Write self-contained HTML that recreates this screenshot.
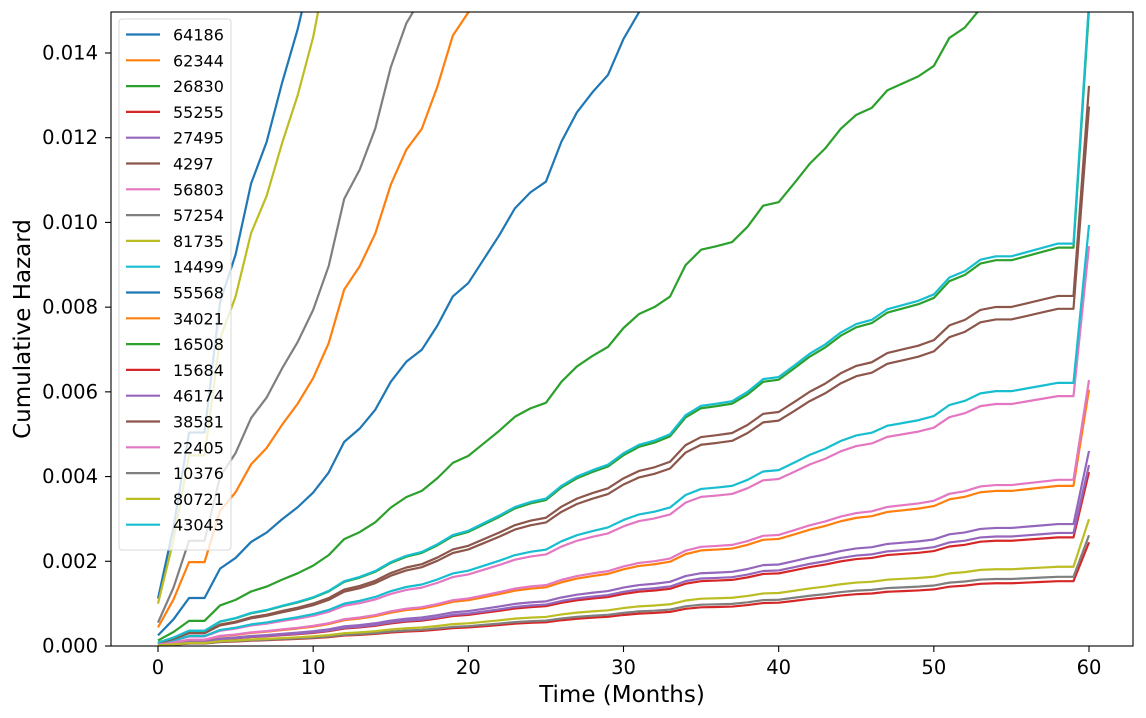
<!DOCTYPE html>
<html><head><meta charset="utf-8"><style>
html,body{margin:0;padding:0;background:#fff;}
svg{display:block;font-family:"DejaVu Sans","Liberation Sans",sans-serif;}
</style></head><body>
<svg id="chart" width="1146" height="718" viewBox="0 0 1146 718" xmlns="http://www.w3.org/2000/svg">
<rect x="0" y="0" width="1146" height="718" fill="#fff"/>
<defs><clipPath id="plotclip"><rect x="111" y="12" width="1022" height="634"/></clipPath></defs>
<g id="lines" clip-path="url(#plotclip)"></g>
<g id="axes"></g>
<g id="legend"></g>
<text x="622" y="702" font-size="23" text-anchor="middle" fill="#000">Time (Months)</text>
<text x="0" y="0" font-size="23" text-anchor="middle" fill="#000" transform="translate(30,329) rotate(-90)">Cumulative Hazard</text>
</svg>
<script>
// Baseline cumulative hazard shape (months 0..60)
const months = [0,1,2,3,4,5,6,7,8,9,10,11,12,13,14,15,16,17,18,19,20,21,22,23,24,25,26,27,28,29,30,31,32,33,34,35,36,37,38,39,40,41,42,43,44,45,46,47,48,49,50,51,52,53,54,55,56,57,58,59,60];
const baseline = [0.00008,0.0002,0.00036,0.00036,0.00058,0.00066,0.00078,0.00085,0.00095,0.00104,0.00115,0.0013,0.00153,0.00163,0.00177,0.00198,0.00213,0.00222,0.0024,0.00262,0.00272,0.0029,0.00308,0.00328,0.0034,0.00348,0.00378,0.004,0.00415,0.00428,0.00455,0.00475,0.00485,0.005,0.00545,0.00567,0.00572,0.00578,0.006,0.0063,0.00635,0.00662,0.0069,0.00712,0.0074,0.0076,0.0077,0.00795,0.00805,0.00815,0.0083,0.0087,0.00885,0.00912,0.0092,0.0092,0.0093,0.0094,0.0095,0.0095,0.0152];
const seriesNames = ["64186","62344","26830","55255","27495","4297","56803","57254","81735","14499","55568","34021","16508","15684","46174","38581","22405","10376","80721","43043"];
const multipliers = [14,5.5,1.65,0.27,0.303,0.87,0.621,6.9,12.5,0.654,3.15,0.398,0.99,0.161,0.281,0.838,0.413,0.172,0.197,1.0];
const yTicks = [0,0.002,0.004,0.006,0.008,0.010,0.012,0.014];
const yTickLabels = ["0.000","0.002","0.004","0.006","0.008","0.010","0.012","0.014"];
const xTicks = [0,10,20,30,40,50,60];
const xTickLabels = ["0","10","20","30","40","50","60"];

const palette = ["#1f77b4","#ff7f0e","#2ca02c","#d62728","#9467bd","#8c564b","#e377c2","#7f7f7f","#bcbd22","#17becf"];
const NS = "http://www.w3.org/2000/svg";
const L = 111, R = 1133, T = 12, B = 646;
function xs(v){ return 158 + (v - 0) * (1089 - 158) / 60; }
function ys(v){ return B - v * (B - 53) / 0.014; }

const linesG = document.getElementById('lines');
seriesNames.forEach((name, i) => {
  const pts = months.map((m, j) => xs(m).toFixed(2) + "," + ys(baseline[j] * multipliers[i]).toFixed(2)).join(" ");
  const pl = document.createElementNS(NS, "polyline");
  
  
  pl.setAttribute("points", pts);
  pl.setAttribute("fill", "none");
  pl.setAttribute("stroke", palette[i % 10]);
  pl.setAttribute("stroke-width", "2.2");
  pl.setAttribute("stroke-linejoin", "round");
  linesG.appendChild(pl);
});

const axesG = document.getElementById('axes');
const frame = document.createElementNS(NS, "rect");


frame.setAttribute("x", L); frame.setAttribute("y", T);
frame.setAttribute("width", R - L); frame.setAttribute("height", B - T);
frame.setAttribute("fill", "none"); frame.setAttribute("stroke", "#000"); frame.setAttribute("stroke-width", "1.1");
axesG.appendChild(frame);

yTicks.forEach((v, i) => {
  const y = ys(v);
  const t = document.createElementNS(NS, "line");
  
  
  t.setAttribute("x1", L - 6); t.setAttribute("x2", L); t.setAttribute("y1", y); t.setAttribute("y2", y);
  t.setAttribute("stroke", "#000"); t.setAttribute("stroke-width", "1.1");
  axesG.appendChild(t);
  const tx = document.createElementNS(NS, "text");
  
  
  tx.setAttribute("x", 98); tx.setAttribute("y", y + 6.5);
  tx.setAttribute("font-size", "19.5"); tx.setAttribute("text-anchor", "end");
  tx.textContent = yTickLabels[i];
  axesG.appendChild(tx);
});
xTicks.forEach((v, i) => {
  const x = xs(v);
  const t = document.createElementNS(NS, "line");
  
  
  t.setAttribute("x1", x); t.setAttribute("x2", x); t.setAttribute("y1", B); t.setAttribute("y2", B + 6);
  t.setAttribute("stroke", "#000"); t.setAttribute("stroke-width", "1.1");
  axesG.appendChild(t);
  const tx = document.createElementNS(NS, "text");
  
  
  tx.setAttribute("x", x); tx.setAttribute("y", 674);
  tx.setAttribute("font-size", "19.5"); tx.setAttribute("text-anchor", "middle");
  tx.textContent = xTickLabels[i];
  axesG.appendChild(tx);
});

const legG = document.getElementById('legend');
const box = document.createElementNS(NS, "rect");


box.setAttribute("x", 119); box.setAttribute("y", 19); box.setAttribute("width", 112); box.setAttribute("height", 531);
box.setAttribute("rx", 3); box.setAttribute("fill", "#fff"); box.setAttribute("fill-opacity", "0.8");
box.setAttribute("stroke", "#d9d9d9"); box.setAttribute("stroke-width", "1");
legG.appendChild(box);
seriesNames.forEach((name, i) => {
  const y = 34.5 + i * 25.8;
  const g = document.createElementNS(NS, "g");
  
  
  const ln = document.createElementNS(NS, "line");
  ln.setAttribute("x1", 126); ln.setAttribute("x2", 160); ln.setAttribute("y1", y); ln.setAttribute("y2", y);
  ln.setAttribute("stroke", palette[i % 10]); ln.setAttribute("stroke-width", "2.2");
  g.appendChild(ln);
  const tx = document.createElementNS(NS, "text");
  tx.setAttribute("x", 173); tx.setAttribute("y", y + 6);
  tx.setAttribute("font-size", "16");
  tx.textContent = name;
  g.appendChild(tx);
  legG.appendChild(g);
});
</script>
</body></html>
